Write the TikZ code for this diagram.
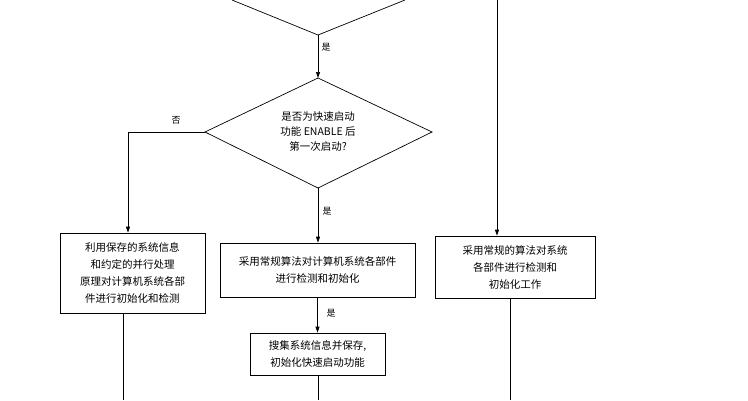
\documentclass[tikz,border=0pt]{standalone}
\usepackage{fontspec}
\setmainfont{Noto Sans CJK SC}
\usetikzlibrary{arrows.meta}
\begin{document}
\begin{tikzpicture}[x=1pt,y=-1pt,line width=0.7pt,
  box/.style={draw,align=center,font=\fontsize{10.5}{17}\selectfont,inner sep=0pt},
  arr/.style={-{Triangle[length=6pt,width=4pt]}},
  lbl/.style={font=\fontsize{9}{10}\selectfont}]
\useasboundingbox (0,0) rectangle (748,400);
\coordinate (t1) at (232,0); \coordinate (t2) at (405,0); \coordinate (tb) at (318,35);
\draw (t1) -- (tb) -- (t2);
\coordinate (dt) at (318,78); \coordinate (dl) at (205,132); \coordinate (dr) at (432,132); \coordinate (db) at (318,188);
\draw (dt) -- (dr) -- (db) -- (dl) -- cycle;
\node[align=center,font=\fontsize{10.5}{15}\selectfont] (dtext) at (318,132) {是否为快速启动\\功能 ENABLE 后\\第一次启动?};
\draw[arr] (tb) -- (dt);
\node[lbl] (y1) at (326,47) {是};
\node[box,minimum width=145pt,minimum height=80pt] (lb) at (132.5,273) {利用保存的系统信息\\和约定的并行处理\\原理对计算机系统各部\\件进行初始化和检测};
\node[box,minimum width=195pt,minimum height=54pt] (mb) at (317.5,270) {采用常规算法对计算机系统各部件\\进行检测和初始化};
\node[box,minimum width=160pt,minimum height=62pt] (rb) at (515,267) {采用常规的算法对系统\\各部件进行检测和\\初始化工作};
\node[box,minimum width=135pt,minimum height=42pt] (bb) at (317.5,354) {搜集系统信息并保存,\\初始化快速启动功能};
\coordinate (lc) at (128,132);
\draw[arr] (dl) -- (lc) -- (lb.north -| lc);
\node[lbl] (n1) at (176,120) {否};
\draw[arr] (db) -- (mb.north -| db);
\node[lbl] (y2) at (327,211) {是};
\draw[arr] (mb) -- (bb);
\node[lbl] (y3) at (331,313) {是};
\coordinate (rt) at (497,0);
\draw[arr] (rt) -- (rb.north -| rt);
\coordinate (le) at (123,400); \coordinate (re) at (510,400); \coordinate (be) at (318,400);
\draw (lb.south -| le) -- (le);
\draw (rb.south -| re) -- (re);
\draw (bb.south -| be) -- (be);
\end{tikzpicture}
\end{document}
